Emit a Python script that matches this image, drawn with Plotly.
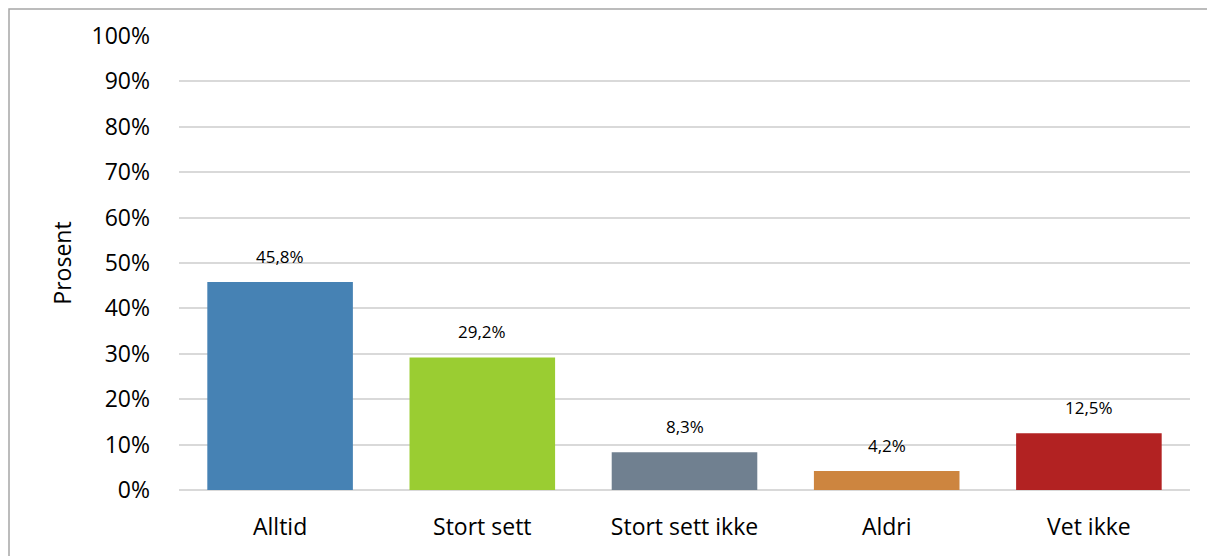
import plotly.graph_objects as go

categories = ["Alltid", "Stort sett", "Stort sett ikke", "Aldri", "Vet ikke"]
values = [45.8, 29.2, 8.3, 4.2, 12.5]
colors = ["#4682B4", "#9ACD32", "#708090", "#CD853F", "#B22222"]
y_title = "Prosent"

FONT = "Open Sans"

fig = go.Figure(go.Bar(
    x=categories, y=values, marker=dict(color=colors, line=dict(width=0)),
    hoverinfo="skip",
))

for c, v in zip(categories, values):
    fig.add_annotation(x=c, y=v, text=f"{v:.1f}%".replace(".", ","),
                       showarrow=False, yanchor="bottom", yshift=12,
                       font=dict(family=FONT, size=17, color="#000000"))

# page has an 8px body margin, so the figure starts at (8, 8)
W, H = 1207, 548
L, R, T, B = 171, 25, 28, 66
pw, ph = W - L - R, H - T - B
# outer frame
fig.add_shape(type="rect", xref="paper", yref="paper",
              x0=(1 - L) / pw, x1=(W + 10 - L) / pw,
              y0=-(B + 10) / ph, y1=(H - 1 - B) / ph,
              line=dict(color="#A6A6A6", width=1.5), layer="below")

fig.update_layout(
    width=W, height=H,
    margin=dict(l=L, r=R, t=T, b=B, autoexpand=False),
    plot_bgcolor="white", paper_bgcolor="white",
    bargap=0.28, showlegend=False,
    font=dict(family=FONT, color="#000000"),
    xaxis=dict(showline=False, ticks="", tickfont=dict(size=23), showgrid=False,
               ticklabelstandoff=21),
    yaxis=dict(range=[0, 100], dtick=10, ticksuffix="%", showgrid=True,
               gridcolor="#D9D9D9", gridwidth=2, zeroline=True,
               zerolinecolor="#D9D9D9", zerolinewidth=2,
               tickfont=dict(size=23), ticklabelstandoff=28,
               title=dict(text=y_title, font=dict(size=23), standoff=13)),
)

fig.write_html("out.html")
